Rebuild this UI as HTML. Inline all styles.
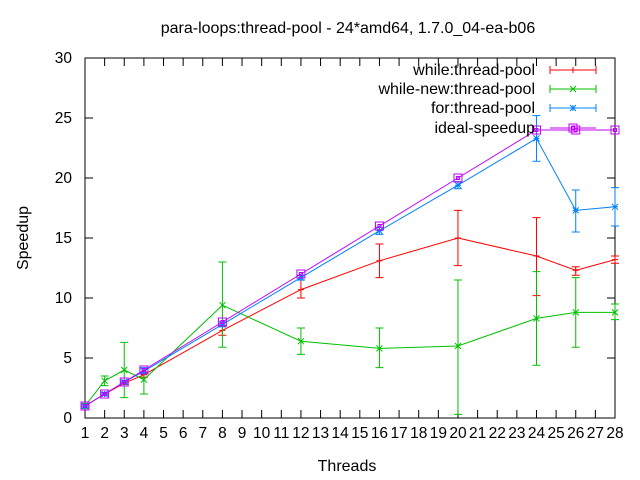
<!DOCTYPE html>
<html><head><meta charset="utf-8"><style>body{margin:0;background:#fff}svg{display:block}text{font-family:"Liberation Sans",sans-serif;font-size:16px;fill:#000}text.tk{font-size:15.5px}</style></head>
<body>
<svg id="c" width="640" height="480"></svg>
<script>
const threads=[1,2,3,4,8,12,16,20,24,26,28];
const whileVals=[1,2,2.9,3.6,7.3,10.7,13.1,15,13.5,12.3,13.2];
const whileLo=[1,1.9,2.8,3.4,6.9,10,11.7,12.7,10.2,11.9,12.9];
const whileHi=[1,2.1,3.0,3.8,7.7,11.5,14.5,17.3,16.7,12.6,13.5];
const newVals=[1,3.1,4,3.2,9.4,6.4,5.8,6,8.3,8.8,8.8];
const newLo=[0.8,2.7,1.7,2,5.9,5.3,4.2,0.3,4.4,5.9,8.2];
const newHi=[1.2,3.5,6.3,4.1,13,7.5,7.5,11.5,12.2,11.7,9.5];
const forVals=[1,2,3,3.9,7.8,11.7,15.6,19.4,23.3,17.3,17.6];
const forLo=[0.9,1.9,2.9,3.7,7.6,11.5,15.3,19.1,21.4,15.5,16];
const forHi=[1.1,2.1,3.1,4.2,8.0,11.9,15.9,19.7,25.2,19,19.2];
const idealVals=[1,2,3,4,8,12,16,20,24,24,24];
const yTicks=[0,5,10,15,20,25,30];
const xTicks=[1,2,3,4,5,6,7,8,9,10,11,12,13,14,15,16,17,18,19,20,21,22,23,24,25,26,27,28];
const L=85,R=615,T=58,B=418;
const X=v=>L+(v-1)*(R-L)/27, Y=v=>B-v*(B-T)/30;
const svg=document.getElementById('c'),NS='http://www.w3.org/2000/svg';
function mk(t,a,p){const e=document.createElementNS(NS,t);for(const k in a)e.setAttribute(k,a[k]);(p||svg).appendChild(e);return e;}
function txt(s,x,y,anchor,name,cls){const e=mk('text',{x:x,y:y,'text-anchor':anchor||'middle'});if(cls)e.setAttribute('class',cls);e.textContent=s;

return e;}
txt('para-loops:thread-pool - 24*amd64, 1.7.0_04-ea-b06',348,33,'middle','chart-title');
txt('Threads',347,471,'middle','x-axis-title');
const yt=txt('Speedup',28,238,'middle','y-axis-title');yt.setAttribute('transform','rotate(-90 28 238)');
const frame=mk('rect',{x:L,y:T,width:R-L,height:B-T,fill:'none',stroke:'#000'});


yTicks.forEach(v=>{mk('line',{x1:L,x2:L+8,y1:Y(v),y2:Y(v),stroke:'#000'});mk('line',{x1:R,x2:R-8,y1:Y(v),y2:Y(v),stroke:'#000'});
txt(String(v),72,Y(v)+5,'end','y-tick-label','tk');});
xTicks.forEach(v=>{mk('line',{x1:X(v),x2:X(v),y1:B,y2:B-8,stroke:'#000'});mk('line',{x1:X(v),x2:X(v),y1:T,y2:T+8,stroke:'#000'});
txt(String(v),X(v),438,'middle','x-tick-label','tk');});
function marker(type,x,y,c,g){
 if(type==='plus'){mk('path',{d:`M${x-3} ${y}h6M${x} ${y-3}v6`,stroke:c,fill:'none'},g);}
 else if(type==='x'){mk('path',{d:`M${x-3} ${y-3}l6 6M${x-3} ${y+3}l6 -6`,stroke:c,fill:'none'},g);}
 else if(type==='star'){mk('path',{d:`M${x-3} ${y}h6M${x} ${y-3}v6M${x-3} ${y-3}l6 6M${x-3} ${y+3}l6 -6`,stroke:c,fill:'none'},g);}
 else {mk('rect',{x:x-4,y:y-4,width:8,height:8,stroke:c,fill:'none'},g);mk('rect',{x:x-1.5,y:y-1.5,width:3,height:3,stroke:c,fill:'none'},g);}
}
function series(name,vals,lo,hi,c,type,ly,label){
 const g=mk('g',{});
 
 
 mk('polyline',{points:threads.map((t,i)=>X(t)+','+Y(vals[i])).join(' '),fill:'none',stroke:c},g);
 threads.forEach((t,i)=>{
  if(lo){const x=X(t);mk('path',{d:`M${x} ${Y(lo[i])}V${Y(hi[i])}M${x-4} ${Y(lo[i])}h8M${x-4} ${Y(hi[i])}h8`,stroke:c,fill:'none'},g);}
  marker(type,X(t),Y(vals[i]),c,g);
 });
 txt(label,535,ly+5,'end','legend-label');
 mk('path',{d:`M550 ${ly}h46`+(lo?`M550 ${ly-4}v8M596 ${ly-4}v8`:''),stroke:c,fill:'none'},g);
 marker(type,573,ly,c,g);
}
series('series-while',whileVals,whileLo,whileHi,'#ff0000','plus',70,'while:thread-pool');
series('series-while-new',newVals,newLo,newHi,'#00c000','x',89,'while-new:thread-pool');
series('series-for',forVals,forLo,forHi,'#0080ff','star',108,'for:thread-pool');
series('series-ideal',idealVals,null,null,'#c000ff','box',128,'ideal-speedup');
</script>
</body></html>
